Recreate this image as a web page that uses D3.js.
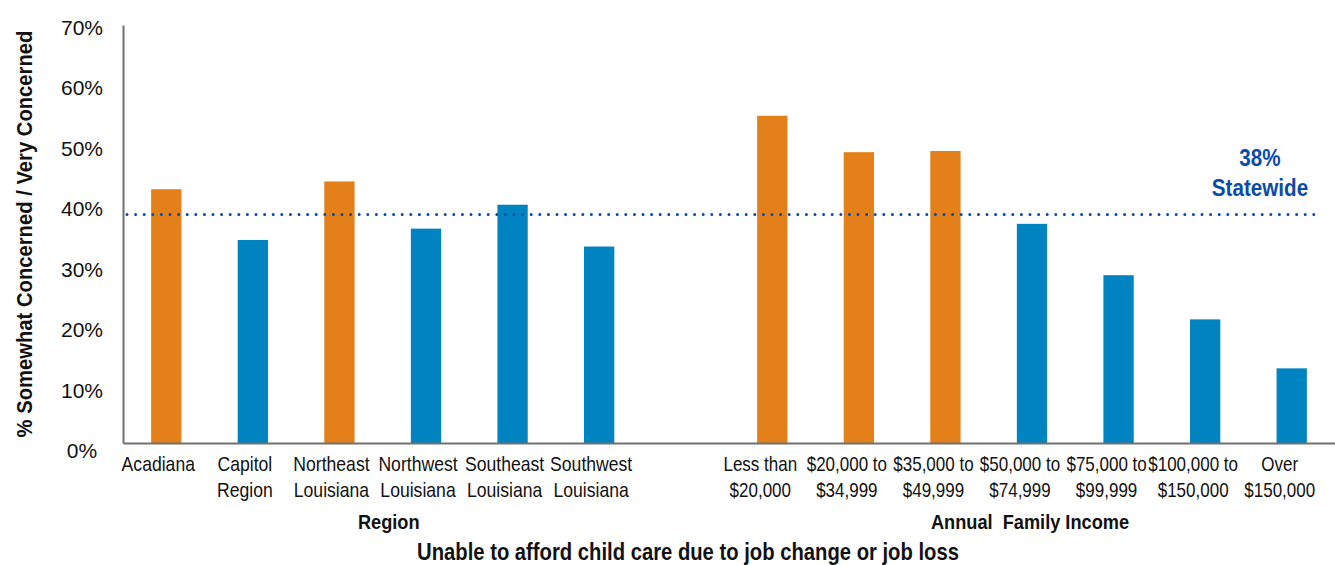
<!DOCTYPE html>
<html>
<head>
<meta charset="utf-8">
<script src="https://cdn.jsdelivr.net/npm/d3@7"></script>
<style>
  body { margin: 0; background: #fff; }
  text { font-family: "Liberation Sans", Arial, sans-serif; fill: #111; }
</style>
</head>
<body>
<div id="chart"></div>
<script>
// chart size
var width = 1335,
    height = 565

// data
const regionLabels = [["Acadiana"], ["Capitol", "Region"], ["Northeast", "Louisiana"], ["Northwest", "Louisiana"], ["Southeast", "Louisiana"], ["Southwest", "Louisiana"]]
const regionValues = [42.5, 34.0, 43.8, 35.9, 39.9, 32.9]
const regionFlag = [true, false, true, false, false, false]

const incomeLabels = [["Less than", "$20,000"], ["$20,000 to", "$34,999"], ["$35,000 to", "$49,999"], ["$50,000 to", "$74,999"], ["$75,000 to", "$99,999"], ["$100,000 to", "$150,000"], ["Over", "$150,000"]]
const incomeValues = [54.8, 48.7, 48.9, 36.7, 28.1, 20.7, 12.5]
const incomeFlag = [true, true, true, false, false, false, false]

const groupNames = ["Region", "Annual  Family Income"]
const statewide = 38
const yTicks = [0, 10, 20, 30, 40, 50, 60, 70]

const orange = "#e3801a", blue = "#0083c1", lineBlue = "#0a4aa8"

// the fonts here are wider than the condensed face of the original, so text is squeezed a bit
function squeezed(sel, cx, cy, sx) {
  return sel.append("g").attr("transform", "translate(" + cx + "," + cy + ") scale(" + sx + ",1)")
}

// one flat list of slots, with an empty slot between the two groups
var slots = []
regionLabels.forEach(function(l, i) { slots.push({key: "r" + i, label: l, value: regionValues[i], flag: regionFlag[i], group: 0}) })
slots.push({key: "gap", label: [], value: null, group: -1})
incomeLabels.forEach(function(l, i) { slots.push({key: "i" + i, label: l, value: incomeValues[i], flag: incomeFlag[i], group: 1}) })

var svg = d3.select("#chart").append("svg")
    .attr("width", width)
    .attr("height", height)

var x = d3.scaleBand()
  .domain(slots.map(function(d) { return d.key }))
  .range([123, 1335])
  .paddingInner(0.65)
  .paddingOuter(0.325)

var y = d3.scaleLinear()
  .domain([0, 70])
  .range([443, 25])

// bars
svg.selectAll("rect.bar")
  .data(slots.filter(function(d) { return d.value !== null }))
  .enter()
  .append("rect")
    .attr("class", "bar")
    .attr("x", function(d) { return x(d.key) })
    .attr("width", x.bandwidth())
    .attr("y", function(d) { return y(d.value) })
    .attr("height", function(d) { return y(0) - y(d.value) })
    .attr("fill", function(d) { return d.flag ? orange : blue })

// y axis (labels in the original are spread slightly wider than the gridline spacing)
var yAxis = svg.append("g")
  .attr("transform", "translate(123,0)")
  .call(d3.axisLeft(y).tickValues(yTicks).tickSize(0).tickFormat(function(d) { return d + "%" }))
yAxis.select(".domain").attr("stroke", "#707070").attr("stroke-width", 2)
yAxis.selectAll("text")
  .attr("x", -41)
  .attr("dy", function(d) { return (0.69 - d / 70 * 0.24) + "em" })
  .attr("text-anchor", "middle")
  .style("font-size", "21px")
  .style("font-family", "'Liberation Sans', Arial, sans-serif")
  .attr("fill", "#111")

// x axis line
var xAxis = svg.append("g")
  .attr("transform", "translate(0," + y(0) + ")")
  .call(d3.axisBottom(x).tickValues([]).tickSizeOuter(0))
xAxis.select(".domain").attr("stroke", "#707070").attr("stroke-width", 2)

// statewide dotted line
svg.append("line")
  .attr("x1", 127)
  .attr("x2", 1314)
  .attr("y1", y(statewide) - 1.5)
  .attr("y2", y(statewide) - 1.5)
  .attr("stroke", lineBlue)
  .attr("stroke-width", 3)
  .attr("stroke-linecap", "round")
  .attr("stroke-dasharray", "0,8.6")

var sw = squeezed(svg, 1260, 0, 0.86)
sw.append("text")
  .attr("y", 166)
  .attr("text-anchor", "middle")
  .style("font-size", "24px")
  .style("font-weight", "bold")
  .style("fill", lineBlue)
  .text(statewide + "%")
sw.append("text")
  .attr("y", 196)
  .attr("text-anchor", "middle")
  .style("font-size", "24px")
  .style("font-weight", "bold")
  .style("fill", lineBlue)
  .text("Statewide")

// category labels (they sit a little left of their bars, as in the original)
slots.filter(function(d) { return d.value !== null }).forEach(function(d) {
  var shift = d.group === 0 ? -8 : -12,
      sx = d.group === 0 ? 0.88 : 0.85
  var g = squeezed(svg, x(d.key) + x.bandwidth() / 2 + shift, 0, sx)
  g.append("text")
    .attr("text-anchor", "middle")
    .style("font-size", "20px")
    .selectAll("tspan")
    .data(d.label)
    .enter()
    .append("tspan")
      .attr("x", 0)
      .attr("y", function(t, i) { return 471 + i * 26 })
      .text(function(t) { return t })
})

// group labels
groupNames.forEach(function(name, gi) {
  var centers = slots.filter(function(d) { return d.group === gi }).map(function(d) { return x(d.key) + x.bandwidth() / 2 })
  squeezed(svg, d3.mean(centers) + (gi === 0 ? 6 : -2), 529, 0.91)
    .append("text")
    .attr("text-anchor", "middle")
    .style("font-size", "20px")
    .style("font-weight", "bold")
    .style("white-space", "pre")
    .text(name)
})

// bottom title
squeezed(svg, 688, 560, 0.88)
  .append("text")
  .attr("text-anchor", "middle")
  .style("font-size", "23px")
  .style("font-weight", "bold")
  .text("Unable to afford child care due to job change or job loss")

// y axis title
svg.append("g")
  .attr("transform", "translate(32,234) rotate(-90) scale(0.92,1)")
  .append("text")
  .attr("text-anchor", "middle")
  .style("font-size", "22px")
  .style("font-weight", "bold")
  .text("% Somewhat Concerned / Very Concerned")
</script>
</body>
</html>
